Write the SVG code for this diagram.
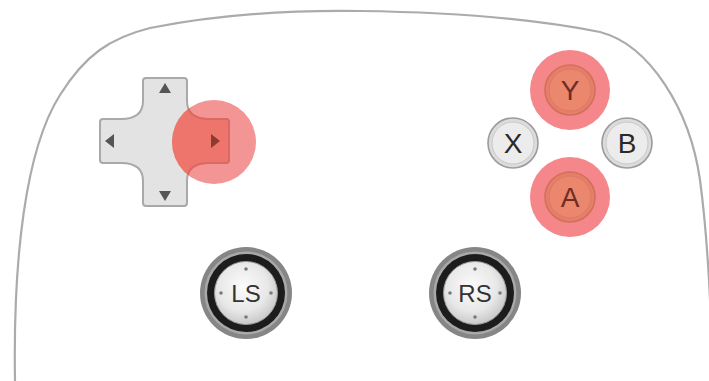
<svg xmlns="http://www.w3.org/2000/svg" xmlns:xlink="http://www.w3.org/1999/xlink" width="709" height="381" viewBox="0 0 709 381">
<style>
.body{fill:none;stroke:#ababab;stroke-width:2.2}
.dpad{fill:#e3e3e3;stroke:#a9a9a9;stroke-width:2}
.tri{fill:#555}
.hl{fill:#f06c6c;opacity:0.72}
.hlo{fill:#f5868a}
.btn-o{fill:#dcdcdc;stroke:#9c9c9c;stroke-width:1.6}
.btn-i{fill:#ececec;stroke:#c9c9c9;stroke-width:1}
.btnp-o{fill:#e57f68;stroke:#d36f5d;stroke-width:1.6}
.btnp-i{fill:#ea876d;stroke:#de7a63;stroke-width:1}
.lbl{font-family:"Liberation Sans",Arial,sans-serif;font-size:28px;text-anchor:middle;fill:#2a2a2a}
.lblp{fill:#6e2e24}
.slbl{font-family:"Liberation Sans",Arial,sans-serif;font-size:24px;text-anchor:middle;fill:#333}
.dot{fill:#7a7a7a}
</style>
<defs>
<radialGradient id="cap" cx="0.45" cy="0.4" r="0.65">
<stop offset="0" stop-color="#fbfbfb"/>
<stop offset="0.6" stop-color="#e8e8e8"/>
<stop offset="1" stop-color="#c2c2c2"/>
</radialGradient>
<clipPath id="hlclip"><circle cx="214" cy="142" r="42"/></clipPath>
<g id="stick">
<circle r="46" fill="#868686"/>
<circle r="41.5" fill="#a9a9a9"/>
<circle r="39" fill="#1c1c1c"/>
<circle r="31.5" fill="url(#cap)" stroke="#9a9a9a" stroke-width="1"/>
<circle cx="0" cy="-24" r="1.8" class="dot"/>
<circle cx="0" cy="24" r="1.8" class="dot"/>
<circle cx="-25" cy="0" r="1.8" class="dot"/>
<circle cx="25" cy="0" r="1.8" class="dot"/>
</g>
</defs>

<g id="controller-body">
<path class="body" d="M15,381 C13,260 25,150 60,95 C85,55 110,38 150,28 C220,14 290,10 360,11 C440,12 530,18 600,32 C650,45 690,110 700,180 C708,240 712,320 712,381"/>
</g>

<g id="dpad">
<path class="dpad" d="M146,78 H184 Q187,78 187,81 V101 Q187,119 209,119 H226 Q229,119 229,122 V160 Q229,163 226,163 H209 Q187,163 187,181 V203 Q187,206 184,206 H146 Q143,206 143,203 V181 Q143,163 121,163 H103 Q100,163 100,160 V122 Q100,119 103,119 H121 Q143,119 143,101 V81 Q143,78 146,78 Z"/>
<polygon class="tri" points="165,83 159,93 171,93"/>
<polygon class="tri" points="159,191 171,191 165,201"/>
<polygon class="tri" points="105,141 114,134 114,148"/>
<g clip-path="url(#hlclip)">
<path d="M146,78 H184 Q187,78 187,81 V101 Q187,119 209,119 H226 Q229,119 229,122 V160 Q229,163 226,163 H209 Q187,163 187,181 V203 Q187,206 184,206 H146 Q143,206 143,203 V181 Q143,163 121,163 H103 Q100,163 100,160 V122 Q100,119 103,119 H121 Q143,119 143,101 V81 Q143,78 146,78 Z" fill="#e48c6a" stroke="#a85e4e" stroke-width="2"/>
</g>
<circle id="dpad-right-highlight" class="hl" cx="214" cy="142" r="42"/>
<polygon points="220,141 211,134 211,148" fill="#8c3a2c"/>
</g>

<g id="btn-y">
<circle class="hlo" cx="570" cy="90" r="40"/>
<circle class="btnp-o" cx="570" cy="90" r="25"/>
<circle class="btnp-i" cx="570" cy="90" r="21"/>
<text class="lbl lblp" x="570" y="100">Y</text>
</g>

<g id="btn-a">
<circle class="hlo" cx="570" cy="197" r="40"/>
<circle class="btnp-o" cx="570" cy="197" r="25"/>
<circle class="btnp-i" cx="570" cy="197" r="21"/>
<text class="lbl lblp" x="570" y="207">A</text>
</g>

<g id="btn-x">
<circle class="btn-o" cx="513" cy="143" r="25"/>
<circle class="btn-i" cx="513" cy="143" r="21"/>
<text class="lbl" x="513" y="153">X</text>
</g>

<g id="btn-b">
<circle class="btn-o" cx="627" cy="143" r="25"/>
<circle class="btn-i" cx="627" cy="143" r="21"/>
<text class="lbl" x="627" y="153">B</text>
</g>

<g id="stick-ls">
<use xlink:href="#stick" x="246" y="293"/>
<text class="slbl" x="246" y="301.5">LS</text>
</g>

<g id="stick-rs">
<use xlink:href="#stick" x="475" y="293"/>
<text class="slbl" x="475" y="301.5">RS</text>
</g>

<g id="connectors"></g>
</svg>
